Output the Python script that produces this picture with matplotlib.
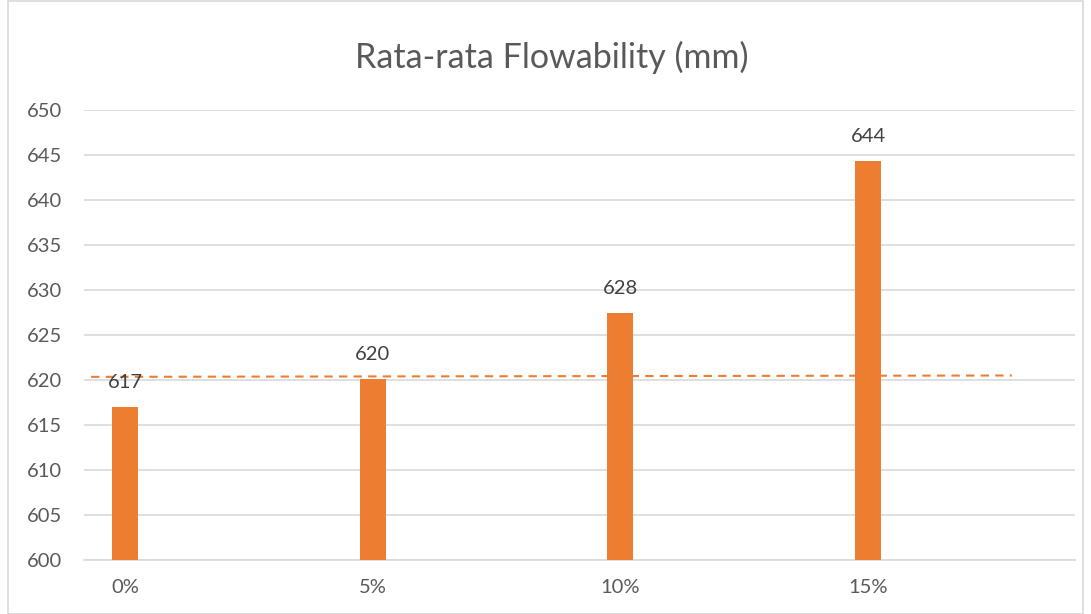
import numpy as np
import matplotlib.pyplot as plt
from matplotlib.patches import Rectangle

plt.rcParams['font.family'] = ['Lato', 'DejaVu Sans']

# --- data ---
categories = ['0%', '5%', '10%', '15%']
flow_values = [617.0, 620.1, 627.4, 644.3]
value_labels = ['617', '620', '628', '644']
ref_x = [-0.137, 3.58]
ref_y = [620.35, 620.5]

orange = '#ED7D31'
text_col = '#595959'
grid_col = '#D9D9D9'

fig = plt.figure(figsize=(10.91, 6.14), dpi=100)
ax = fig.add_axes([84 / 1091, 1 - 560 / 614, (1075 - 84) / 1091, 450 / 614])

x = np.arange(len(categories))
ax.bar(x, flow_values, width=0.105, color=orange, zorder=3)
ax.plot(ref_x, ref_y, color=orange, linestyle=(0, (4, 3)), linewidth=1.5, zorder=4)

for xi, v, lab in zip(x, flow_values, value_labels):
    ax.annotate(lab, (xi, v), xytext=(0, 18), textcoords='offset points',
                ha='center', va='center', fontsize=14.5, color='#404040', zorder=5)

ax.set_ylim(600, 650)
ax.set_xlim(-0.1655, 3.835)
ax.set_yticks(np.arange(600, 651, 5))
ax.set_xticks(x)
ax.set_xticklabels(categories)
ax.tick_params(axis='both', length=0, labelsize=14.5, labelcolor=text_col)
ax.tick_params(axis='y', pad=16)
ax.tick_params(axis='x', pad=14)
ax.grid(axis='y', color=grid_col, linewidth=1.2, zorder=0)
for s in ['top', 'right', 'left']:
    ax.spines[s].set_visible(False)
ax.spines['bottom'].set_color(grid_col)
ax.spines['bottom'].set_linewidth(1.2)

fig.text(552 / 1091, 1 - 57 / 614, 'Rata-rata Flowability (mm)', ha='center', va='center',
         fontsize=24.5, color=text_col)

fig.patches.append(Rectangle((8 / 1091, 0.0), 1 - 16 / 1091, 0.998, transform=fig.transFigure,
                             fill=False, edgecolor=grid_col, linewidth=1.2))

fig.savefig('out.png', dpi=100)
